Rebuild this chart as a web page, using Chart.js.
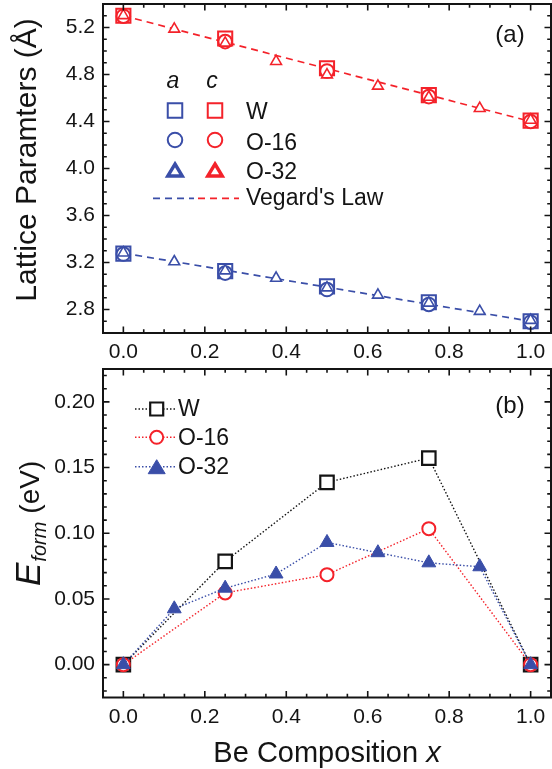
<!DOCTYPE html>
<html><head><meta charset="utf-8">
<script src="https://cdn.jsdelivr.net/npm/chart.js@4.4.1/dist/chart.umd.min.js"></script>
<style>
html,body{margin:0;padding:0;background:#fff;}
#wrap{position:relative;width:552px;height:769px;overflow:hidden;background:#fff;}
#c1{position:absolute;left:0;top:0;width:552px;height:370px;}
#c2{position:absolute;left:0;top:360px;width:552px;height:409px;}
</style></head><body>
<div id="wrap"><canvas id="c1" width="552" height="370"></canvas><canvas id="c2" width="552" height="409"></canvas></div>
<script>
// ---------------- data ----------------
const xMain   = [0, 0.25, 0.5, 0.75, 1.0];
const xO32    = [0, 0.125, 0.25, 0.375, 0.5, 0.625, 0.75, 0.875, 1.0];
const xVegard = [0, 1.0];

// panel (a): lattice parameters (Å)
const aW   = [3.276, 3.126, 2.997, 2.862, 2.700];
const aO16 = [3.272, 3.110, 2.970, 2.843, 2.692];
const aO32 = [3.282, 3.207, 3.130, 3.067, 2.985, 2.923, 2.855, 2.785, 2.708];
const cW   = [5.300, 5.106, 4.853, 4.625, 4.407];
const cO16 = [5.296, 5.080, 4.830, 4.612, 4.400];
const cO32 = [5.302, 5.187, 5.068, 4.912, 4.798, 4.702, 4.607, 4.512, 4.412];
const vegardA = [3.28, 2.70];
const vegardC = [5.30, 4.40];

// panel (b): formation energy (eV)
const eW   = [0, 0.0786, 0.1387, 0.1572, 0];
const eO16 = [0, 0.0546, 0.0685, 0.1035, 0];
const eO32 = [0, 0.0425, 0.0582, 0.0690, 0.0930, 0.0852, 0.0775, 0.0745, 0];

// tick labels
const xTickVals     = [0, 0.2, 0.4, 0.6, 0.8, 1.0];
const latticeTicks  = [2.8, 3.2, 3.6, 4.0, 4.4, 4.8, 5.2];
const eformTicks    = [0, 0.05, 0.10, 0.15, 0.20];

// ---------------- style ----------------
const FONT = '"Liberation Sans", Arial, Helvetica, sans-serif';
const BLUE = '#3a4ea8', RED = '#f4222a', INK = '#141414';
Chart.defaults.font.family = FONT;
Chart.defaults.color = INK;

const pts = (xs, ys) => xs.map((x, i) => ({x, y: ys[i]}));
const rng = (a, b, step) => { const r = []; for (let k = a; k <= b; k++) r.push(+(k * step).toFixed(6)); return r; };

const frame = {
  id: 'frame',
  afterDatasetsDraw(chart, args, o) {
    const {ctx, chartArea: A, scales: {x, y}} = chart;
    const isMaj = (v, arr) => arr.some(m => Math.abs(m - v) < 1e-6);
    ctx.save();
    ctx.strokeStyle = INK; ctx.lineWidth = 1.6; ctx.setLineDash([]);
    ctx.beginPath();
    o.xMinor.forEach(v => {
      const px = x.getPixelForValue(v);
      if (px <= A.left + 1 || px >= A.right - 1) return;
      const len = isMaj(v, o.xMajor) ? 6.5 : 3.8;
      ctx.moveTo(px, A.bottom); ctx.lineTo(px, A.bottom - len);
      ctx.moveTo(px, A.top); ctx.lineTo(px, A.top + len);
    });
    o.yMinor.forEach(v => {
      const py = y.getPixelForValue(v);
      if (py <= A.top + 1 || py >= A.bottom - 1) return;
      const len = isMaj(v, o.yMajor) ? 6.5 : 3.8;
      ctx.moveTo(A.left, py); ctx.lineTo(A.left + len, py);
      ctx.moveTo(A.right, py); ctx.lineTo(A.right - len, py);
    });
    ctx.stroke();
    ctx.lineWidth = 2;
    ctx.strokeRect(A.left, A.top, A.right - A.left, A.bottom - A.top);
    ctx.restore();
  }
};

function sq(ctx, cx, cy, s, col, lw, fill) {
  ctx.beginPath(); ctx.rect(cx - s / 2, cy - s / 2, s, s);
  if (fill) { ctx.fillStyle = fill; ctx.fill(); }
  ctx.lineWidth = lw; ctx.strokeStyle = col; ctx.stroke();
}
function circ(ctx, cx, cy, d, col, lw, fill) {
  ctx.beginPath(); ctx.arc(cx, cy, d / 2, 0, Math.PI * 2);
  if (fill) { ctx.fillStyle = fill; ctx.fill(); }
  ctx.lineWidth = lw; ctx.strokeStyle = col; ctx.stroke();
}
function tri(ctx, cx, cy, w, h, col, lw, fill) {
  ctx.beginPath();
  ctx.moveTo(cx, cy - h / 2); ctx.lineTo(cx + w / 2, cy + h / 2); ctx.lineTo(cx - w / 2, cy + h / 2); ctx.closePath();
  if (fill) { ctx.fillStyle = fill; ctx.fill(); }
  ctx.lineJoin = 'miter'; ctx.lineWidth = lw; ctx.strokeStyle = col; ctx.stroke();
}

const decorA = {
  id: 'decorA',
  afterDraw(chart) {
    const ctx = chart.ctx; ctx.save(); ctx.setLineDash([]);
    ctx.fillStyle = INK; ctx.textBaseline = 'alphabetic';
    ctx.font = `24px ${FONT}`; ctx.textAlign = 'center';
    ctx.fillText('(a)', 510, 41.5);
    // legend header
    ctx.font = `italic 23px ${FONT}`;
    ctx.fillText('a', 173, 88);
    ctx.fillText('c', 212, 88);
    // rows
    sq(ctx, 175, 110.5, 14.5, BLUE, 2, null);
    sq(ctx, 215, 110.5, 14.5, RED, 2, null);
    circ(ctx, 175, 140, 14.5, BLUE, 2, null);
    circ(ctx, 215, 140, 14.5, RED, 2, null);
    tri(ctx, 175, 170, 14.5, 12, BLUE, 3.4, null);
    tri(ctx, 215, 170, 14.5, 12, RED, 3.4, null);
    ctx.setLineDash([7, 5]); ctx.lineWidth = 1.7;
    ctx.strokeStyle = BLUE; ctx.beginPath(); ctx.moveTo(153, 198.3); ctx.lineTo(194, 198.3); ctx.stroke();
    ctx.strokeStyle = RED; ctx.beginPath(); ctx.moveTo(198, 198.3); ctx.lineTo(239, 198.3); ctx.stroke();
    ctx.setLineDash([]);
    ctx.font = `23px ${FONT}`; ctx.textAlign = 'left'; ctx.fillStyle = INK;
    ctx.fillText('W', 246, 118.5);
    ctx.fillText('O-16', 246, 149.5);
    ctx.fillText('O-32', 246, 179);
    ctx.fillText("Vegard's Law", 246, 205);
    // y title
    ctx.translate(36, 160); ctx.rotate(-Math.PI / 2);
    ctx.font = `30px ${FONT}`; ctx.textAlign = 'center';
    ctx.fillText('Lattice Paramters (Å)', 0, 0);
    ctx.restore();
  }
};

const decorB = {
  id: 'decorB',
  afterDraw(chart) {
    const ctx = chart.ctx; ctx.save(); ctx.setLineDash([]);
    ctx.fillStyle = INK; ctx.textBaseline = 'alphabetic';
    ctx.font = `24px ${FONT}`; ctx.textAlign = 'center';
    ctx.fillText('(b)', 510, 52.5);
    // legend
    const rows = [
      {y: 49, col: INK, t: 'W', by: 56},
      {y: 77.3, col: RED, t: 'O-16', by: 85},
      {y: 106.7, col: BLUE, t: 'O-32', by: 114}
    ];
    rows.forEach((r, i) => {
      ctx.setLineDash([1.5, 2]); ctx.lineWidth = 1.4; ctx.strokeStyle = r.col;
      ctx.beginPath(); ctx.moveTo(135, r.y); ctx.lineTo(176, r.y); ctx.stroke();
      ctx.setLineDash([]);
      if (i === 0) sq(ctx, 156.7, r.y, 13, INK, 2.2, '#fff');
      if (i === 1) circ(ctx, 156.7, r.y, 13, RED, 2, '#fff');
      if (i === 2) tri(ctx, 156.7, r.y, 17, 14, BLUE, 1, BLUE);
      ctx.fillStyle = INK; ctx.font = `23px ${FONT}`; ctx.textAlign = 'left';
      ctx.fillText(r.t, 178, r.by);
    });
    // x title
    const A = chart.chartArea;
    const f1 = `29px ${FONT}`, f2 = `italic 29px ${FONT}`;
    ctx.font = f1; const w1 = ctx.measureText('Be Composition ').width;
    ctx.font = f2; const w2 = ctx.measureText('x').width;
    const sx = (A.left + A.right) / 2 - (w1 + w2) / 2;
    ctx.font = f1; ctx.fillText('Be Composition ', sx, 401.5);
    ctx.font = f2; ctx.fillText('x', sx + w1, 401.5);
    // y title: E_form (eV)
    ctx.translate(40, 226); ctx.rotate(-Math.PI / 2);
    ctx.font = `italic 35px ${FONT}`; ctx.fillText('E', 0, 0);
    let p = ctx.measureText('E').width;
    ctx.font = `italic 20px ${FONT}`; ctx.fillText('form', p + 1, 6);
    p += 1 + ctx.measureText('form').width + 8;
    ctx.font = `28px ${FONT}`; ctx.fillText('(eV)', p, -1);
    ctx.restore();
  }
};

function xScale(h) {
  return {
    type: 'linear', min: -0.05, max: 1.05,
    afterBuildTicks: s => { s.ticks = xTickVals.map(v => ({value: v})); },
    afterFit: s => { s.height = h; s.paddingLeft = 0; s.paddingRight = 0; s.paddingTop = 0; s.paddingBottom = 0; },
    grid: {display: false, drawTicks: false}, border: {display: false},
    ticks: {padding: 7, font: {size: 21}, color: INK, maxRotation: 0, autoSkip: false,
            callback: v => Number(v).toFixed(1)}
  };
}
function yScale(min, max, ticks, dec) {
  return {
    type: 'linear', min, max, position: 'left',
    afterBuildTicks: s => { s.ticks = ticks.map(v => ({value: v})); },
    afterFit: s => { s.width = 103; s.paddingLeft = 0; s.paddingRight = 0; s.paddingTop = 0; s.paddingBottom = 0; },
    grid: {display: false, drawTicks: false}, border: {display: false},
    ticks: {padding: 8, font: {size: 21}, color: INK, autoSkip: false,
            callback: v => Number(v).toFixed(dec)}
  };
}

const hollow = (label, xs, ys, style, r, col, lw) => ({
  label, data: pts(xs, ys), showLine: false, pointStyle: style, pointRadius: r, pointHoverRadius: r,
  pointBorderColor: col, pointBackgroundColor: '#fff', pointBorderWidth: lw, borderColor: col
});

// ---------------- chart (a) ----------------
new Chart(document.getElementById('c1'), {
  type: 'scatter',
  data: {
    datasets: [
      hollow('c O-32', xO32, cO32, 'triangle', 6.2, RED, 1.6),
      hollow('a O-32', xO32, aO32, 'triangle', 6.2, BLUE, 1.6),
      hollow('c O-16', xMain, cO16, 'circle', 6.8, RED, 2),
      hollow('a O-16', xMain, aO16, 'circle', 6.8, BLUE, 2),
      hollow('c W', xMain, cW, 'rect', 10, RED, 2),
      hollow('a W', xMain, aW, 'rect', 10, BLUE, 2),
      {label: 'Vegard c', data: pts(xVegard, vegardC), showLine: true, pointRadius: 0,
       borderColor: RED, borderWidth: 1.7, borderDash: [7, 5]},
      {label: 'Vegard a', data: pts(xVegard, vegardA), showLine: true, pointRadius: 0,
       borderColor: BLUE, borderWidth: 1.7, borderDash: [7, 5]}
    ]
  },
  options: {
    responsive: false, animation: false,
    layout: {autoPadding: false, padding: {top: 4, right: 1, left: 0, bottom: 0}},
    scales: {x: xScale(37), y: yScale(2.6, 5.4, latticeTicks, 1)},
    plugins: {
      legend: {display: false}, tooltip: {enabled: false},
      frame: {xMajor: xTickVals, xMinor: rng(-1, 21, 0.05), yMajor: latticeTicks, yMinor: rng(26, 54, 0.1)}
    }
  },
  plugins: [frame, decorA]
});

// ---------------- chart (b) ----------------
const dotted = (label, xs, ys, style, r, col, lw, fill) => ({
  label, data: pts(xs, ys), showLine: true, borderColor: col, borderWidth: 1.4, borderDash: [1.5, 2],
  pointStyle: style, pointRadius: r, pointHoverRadius: r, pointBorderColor: col,
  pointBackgroundColor: fill, pointBorderWidth: lw
});

new Chart(document.getElementById('c2'), {
  type: 'scatter',
  data: {
    datasets: [
      dotted('O-32', xO32, eO32, 'triangle', 8, BLUE, 1, BLUE),
      dotted('O-16', xMain, eO16, 'circle', 6.5, RED, 2, '#fff'),
      dotted('W', xMain, eW, 'rect', 9.5, INK, 2.2, '#fff')
    ]
  },
  options: {
    responsive: false, animation: false,
    layout: {autoPadding: false, padding: {top: 9, right: 1, left: 0, bottom: 0}},
    scales: {x: xScale(71.5), y: yScale(-0.025, 0.225, eformTicks, 2)},
    plugins: {
      legend: {display: false}, tooltip: {enabled: false},
      frame: {xMajor: xTickVals, xMinor: rng(-1, 21, 0.05), yMajor: eformTicks, yMinor: rng(-2, 22, 0.01)}
    }
  },
  plugins: [frame, decorB]
});
</script>
</body></html>
